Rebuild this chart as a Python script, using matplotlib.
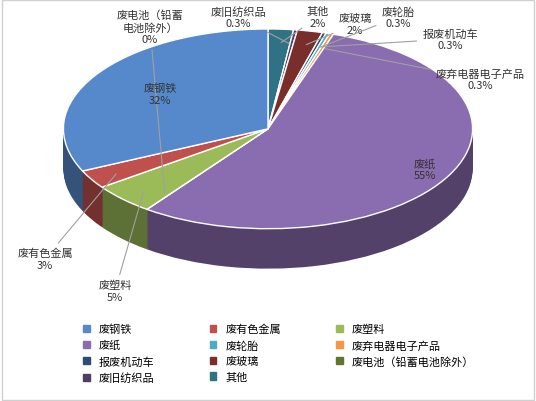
import matplotlib.pyplot as plt
import matplotlib.patches as mpatches
import numpy as np

plt.rcParams['font.family'] = ['Noto Sans CJK SC', 'DejaVu Sans']

# clockwise from 12 o'clock, as drawn
names = ['其他', '废旧纺织品', '废玻璃', '报废机动车', '废轮胎', '废弃电器电子产品',
         '废纸', '废电池（铅蓄电池除外）', '废塑料', '废有色金属', '废钢铁']
values = [2, 0.3, 2, 0.3, 0.3, 0.3, 55, 0, 5, 3, 32]
pct_labels = ['2%', '0.3%', '2%', '0.3%', '0.3%', '0.3%', '55%', '0%', '5%', '3%', '32%']
colors = ['#2f7283', '#4f3c68', '#7a2e2c', '#2c4d75', '#4bacc6', '#f79646',
          '#8a6cb0', '#607530', '#9bbb59', '#c0504d', '#5689cc']
legend_order = ['废钢铁', '废纸', '报废机动车', '废旧纺织品',
                '废有色金属', '废轮胎', '废玻璃', '其他',
                '废塑料', '废弃电器电子产品', '废电池（铅蓄电池除外）']
# label text positions in pixels (x, y from top)
label_px = {'其他': (318, 18), '废旧纺织品': (238, 18), '废玻璃': (355, 25),
            '报废机动车': (450, 40), '废轮胎': (398, 18), '废弃电器电子产品': (480, 80),
            '废纸': (425, 170), '废电池（铅蓄电池除外）': (150, 28), '废塑料': (115, 292),
            '废有色金属': (45, 260), '废钢铁': (160, 95)}
label_names = {'废电池（铅蓄电池除外）': '废电池（铅蓄\n电池除外）'}

W, H = 536, 402
fig = plt.figure(figsize=(W / 100, H / 100), dpi=100)
ax = fig.add_axes([0, 0.2, 1, 0.8])


def darken(c, f):
    import matplotlib.colors as mc
    r, g, b = mc.to_rgb(c)
    return (r * f, g * f, b * f)


depth = 0.4
steps = 40
for i in range(steps, 0, -1):
    dy = -depth * i / steps
    ax.pie(values, colors=[darken(c, 0.6) for c in colors], startangle=90,
           counterclock=False, center=(0, dy), radius=1, frame=True,
           wedgeprops=dict(linewidth=0))
wedges, _ = ax.pie(values, colors=colors, startangle=90, counterclock=False,
                   center=(0, 0), radius=1, frame=True,
                   wedgeprops=dict(linewidth=1, edgecolor='white'))
ax.set_xlim(-1.31, 1.31)
ax.set_ylim(-1.92, 1.3)
ax.set_aspect('auto')
ax.axis('off')

for w, n, p in zip(wedges, names, pct_labels):
    px, py = label_px[n]
    txt = label_names.get(n, n) + '\n' + p
    if n in ('废纸', '废钢铁'):
        fig.text(px / W, 1 - py / H, txt, ha='center', va='center', fontsize=8, color='#333333')
    else:
        a = np.deg2rad((w.theta1 + w.theta2) / 2)
        ax.annotate(txt, xy=(0.85 * np.cos(a), 0.85 * np.sin(a)),
                    xytext=(px / W, 1 - py / H), textcoords='figure fraction',
                    ha='center', va='center', fontsize=8, color='#333333',
                    arrowprops=dict(arrowstyle='-', color='#a0a0a0', lw=0.8))

handles = [mpatches.Patch(color=colors[names.index(n)], label=n) for n in legend_order]
fig.legend(handles=handles, loc='lower center', bbox_to_anchor=(0.52, 0.02), ncol=3,
           frameon=False, fontsize=8, handlelength=0.6, handleheight=0.6,
           columnspacing=5, labelspacing=0.5)
fig.add_artist(mpatches.Rectangle((0.003, 0.003), 0.994, 0.994, transform=fig.transFigure,
                                  fill=False, edgecolor='#d0d0d0', lw=1))
fig.savefig('out.png', dpi=100)
